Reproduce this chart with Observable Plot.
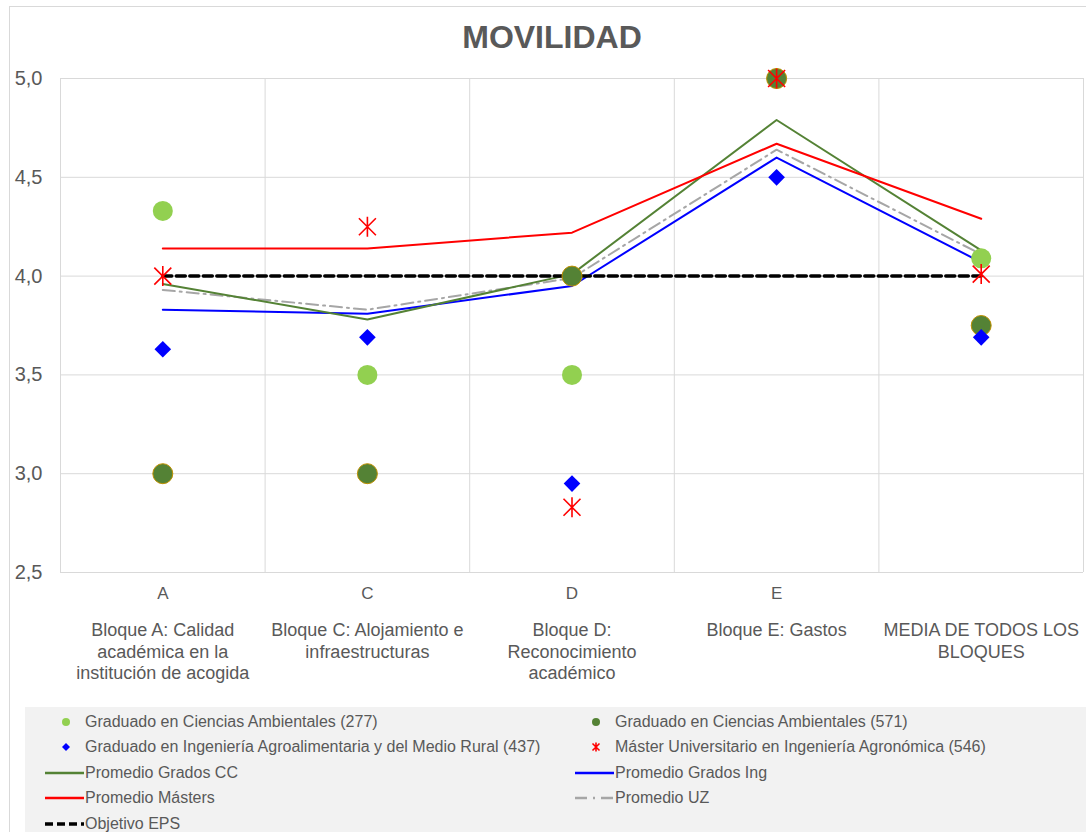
<!DOCTYPE html>
<html>
<head>
<meta charset="utf-8">
<script src="https://cdn.jsdelivr.net/npm/d3@7"></script>
<script src="https://cdn.jsdelivr.net/npm/@observablehq/plot@0.6"></script>
<style>
  html, body { margin: 0; padding: 0; background: #fff; }
  body { width: 1086px; height: 832px; overflow: hidden; position: relative; font-family: "Liberation Sans", Arial, sans-serif; color: #595959; }
  #frame { position: absolute; left: 9px; top: 6px; width: 1200px; height: 1000px; border: 1px solid #d9d9d9; box-sizing: border-box; pointer-events: none; }
  #title { height: 60px; box-sizing: border-box; padding-top: 19px; line-height: 36px; font-size: 32px; font-weight: bold; text-align: center; margin-left: 9px; width: 1086px; color: #595959; }
  #chart svg { display: block; }
  #legend { margin-left: 25px; width: 1061px; height: 125px; background: #f2f2f2; box-sizing: border-box; padding-top: 2px; padding-left: 20px; display: grid; grid-template-columns: 530px 1fr; grid-auto-rows: 25.5px; font-size: 16px; color: #595959; }
  .item { display: flex; align-items: center; white-space: nowrap; }
  .item svg { flex: none; display: block; }
</style>
</head>
<body>
<div id="title">MOVILIDAD</div>
<div id="chart"></div>
<div id="legend"></div>
<div id="frame"></div>
<script>
// ---- data ----
const categoryKeys = ["A", "C", "D", "E", "MEDIA"];
const categoryLetters = ["A", "C", "D", "E", ""];
const categoryNames = [
  "Bloque A: Calidad\nacadémica en la\ninstitución de acogida",
  "Bloque C: Alojamiento e\ninfraestructuras",
  "Bloque D:\nReconocimiento\nacadémico",
  "Bloque E: Gastos",
  "MEDIA DE TODOS LOS\nBLOQUES"
];
const yTicks = [2.5, 3.0, 3.5, 4.0, 4.5, 5.0];

const cienciasAmb277 = [4.33, 3.50, 3.50, 5.00, 4.09];
const cienciasAmb571 = [3.00, 3.00, 4.00, 5.00, 3.75];
const ingAgro437     = [3.63, 3.69, 2.95, 4.50, 3.69];
const masterAgro546  = [4.00, 4.25, 2.83, 5.00, 4.01];

const promGradosCC  = [3.96, 3.78, 4.01, 4.79, 4.13];
const promGradosIng = [3.83, 3.81, 3.95, 4.60, 4.07];
const promMasters   = [4.14, 4.14, 4.22, 4.67, 4.29];
const promUZ        = [3.93, 3.83, 3.99, 4.64, 4.11];
const objetivoEPS   = [4.00, 4.00, 4.00, 4.00, 4.00];

// ---- styles ----
const C = {
  light: "#92d050", dark: "#548235", darkStroke: "#bf9000",
  blue: "#0000ff", red: "#ff0000", lineGreen: "#548235", gray: "#a6a6a6", black: "#000000"
};

const asteriskSymbol = {
  draw(ctx, size) {
    const r = Math.sqrt(size / Math.PI);
    const d = r * 0.85;
    ctx.moveTo(0, -r); ctx.lineTo(0, r);
    ctx.moveTo(-d, -d); ctx.lineTo(d, d);
    ctx.moveTo(-d, d); ctx.lineTo(d, -d);
  }
};

const idx = categoryKeys.map((k, i) => i);
const boundaries = idx.map(i => i - 0.5).concat([idx.length - 0.5]);
const X = (d, i) => i;
const Y = d => d;

const plot = Plot.plot({
  width: 1086,
  height: 647,
  marginTop: 18,
  marginBottom: 135,
  marginLeft: 60,
  marginRight: 3,
  style: { fontFamily: "'Liberation Sans', Arial, sans-serif", fontSize: "17px", color: "#595959", background: "transparent" },
  x: { type: "linear", domain: [-0.5, idx.length - 0.5] },
  y: { domain: [2.5, 5.0] },
  marks: [
    Plot.gridY(yTicks, { stroke: "#d9d9d9", strokeOpacity: 1, strokeWidth: 1 }),
    Plot.gridX(boundaries, { stroke: "#d9d9d9", strokeOpacity: 1, strokeWidth: 1 }),
    Plot.axisY({ ticks: yTicks, tickFormat: d => d.toFixed(1).replace(".", ","), tickSize: 0, tickPadding: 18, fontSize: 20, label: null }),
    Plot.axisX({ ticks: idx, tickFormat: i => categoryLetters[i], tickSize: 0, tickPadding: 14, fontSize: 17, label: null }),
    Plot.axisX({ ticks: idx, tickFormat: i => categoryNames[i], tickSize: 0, tickPadding: 49, fontSize: 18, lineHeight: 1.17, label: null }),
    Plot.line(promUZ, { x: X, y: Y, stroke: C.gray, strokeWidth: 2, strokeDasharray: "12,5,2,5" }),
    Plot.line(promGradosIng, { x: X, y: Y, stroke: C.blue, strokeWidth: 2 }),
    Plot.line(promGradosCC, { x: X, y: Y, stroke: C.lineGreen, strokeWidth: 2 }),
    Plot.line(promMasters, { x: X, y: Y, stroke: C.red, strokeWidth: 2 }),
    Plot.line(objetivoEPS, { x: X, y: Y, stroke: C.black, strokeWidth: 3.5, strokeDasharray: "9,4.5" }),
    Plot.dot(cienciasAmb277, { x: X, y: Y, r: 10, fill: C.light, stroke: "none" }),
    Plot.dot(cienciasAmb571, { x: X, y: Y, r: 10, fill: C.dark, stroke: C.darkStroke, strokeWidth: 1 }),
    Plot.dot(ingAgro437, { x: X, y: Y, r: 7.5, symbol: "diamond2", fill: C.blue, stroke: "none" }),
    Plot.dot(masterAgro546, { x: X, y: Y, r: 10, symbol: asteriskSymbol, fill: "none", stroke: C.red, strokeWidth: 1.6 })
  ]
});
document.getElementById("chart").appendChild(plot);

// ---- legend ----
const legendItems = [
  { label: "Graduado en Ciencias Ambientales (277)", kind: "circle", color: C.light },
  { label: "Graduado en Ciencias Ambientales (571)", kind: "circle", color: C.dark },
  { label: "Graduado en Ingeniería Agroalimentaria y del Medio Rural (437)", kind: "diamond", color: C.blue },
  { label: "Máster Universitario en Ingeniería Agronómica (546)", kind: "asterisk", color: C.red },
  { label: "Promedio Grados CC", kind: "line", color: C.lineGreen },
  { label: "Promedio Grados Ing", kind: "line", color: C.blue },
  { label: "Promedio Másters", kind: "line", color: C.red },
  { label: "Promedio UZ", kind: "dashdot", color: C.gray },
  { label: "Objetivo EPS", kind: "dash", color: C.black }
];
const NS = "http://www.w3.org/2000/svg";
const legend = document.getElementById("legend");
for (const it of legendItems) {
  const div = document.createElement("div");
  div.className = "item";
  const svg = document.createElementNS(NS, "svg");
  svg.setAttribute("width", 40); svg.setAttribute("height", 20);
  let el;
  if (it.kind === "circle") {
    el = document.createElementNS(NS, "circle");
    el.setAttribute("cx", 21); el.setAttribute("cy", 10); el.setAttribute("r", 4);
    el.setAttribute("fill", it.color);
  } else if (it.kind === "diamond") {
    el = document.createElementNS(NS, "path");
    el.setAttribute("d", "M21,6L25,10L21,14L17,10Z");
    el.setAttribute("fill", it.color);
  } else if (it.kind === "asterisk") {
    el = document.createElementNS(NS, "path");
    el.setAttribute("d", "M21,5.5V14.5M17.5,6.5L24.5,13.5M17.5,13.5L24.5,6.5");
    el.setAttribute("stroke", it.color); el.setAttribute("stroke-width", 1.6); el.setAttribute("fill", "none");
  } else {
    el = document.createElementNS(NS, "line");
    el.setAttribute("x1", 0); el.setAttribute("x2", 39); el.setAttribute("y1", 10); el.setAttribute("y2", 10);
    el.setAttribute("stroke", it.color);
    el.setAttribute("stroke-width", it.kind === "dash" ? 3.5 : 2.5);
    if (it.kind === "dashdot") el.setAttribute("stroke-dasharray", "12,6,2,6");
    if (it.kind === "dash") el.setAttribute("stroke-dasharray", "8,4");
  }
  svg.appendChild(el);
  const span = document.createElement("span");
  span.textContent = it.label;
  div.appendChild(svg); div.appendChild(span);
  legend.appendChild(div);
}
</script>
</body>
</html>
